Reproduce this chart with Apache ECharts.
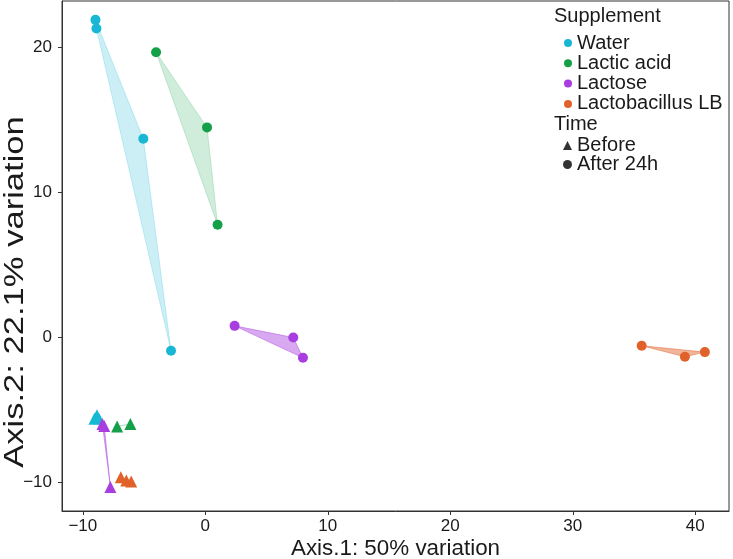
<!DOCTYPE html>
<html><head><meta charset="utf-8">
<script src="https://cdn.jsdelivr.net/npm/echarts@6/dist/echarts.min.js"></script>
<style>html,body{margin:0;padding:0;background:#fff}#c{width:733px;height:559px}</style>
</head><body><div id="c"></div>
<script>
// ---- data ----
const supplements = ['Water', 'Lactic acid', 'Lactose', 'Lactobacillus LB'];
const times = ['Before', 'After 24h'];
const xTicks = [-10, 0, 10, 20, 30, 40];
const yTicks = [-10, 0, 10, 20];
const xTitle = 'Axis.1: 50% variation';
const yTitle = 'Axis.2: 22.1% variation';

const waterAfterX = [-8.97, -8.89, -5.06, -2.80];
const waterAfterY = [21.9, 21.3, 13.7, -0.91];
const lacticAfterX = [-4.02, 0.14, 1.00];
const lacticAfterY = [19.67, 14.49, 7.78];
const lactoseAfterX = [2.39, 7.18, 7.97];
const lactoseAfterY = [0.81, 0.01, -1.39];
const lbAfterX = [35.62, 39.15, 40.78];
const lbAfterY = [-0.56, -1.32, -1.00];

const waterBeforeX = [-9.05, -8.85, -8.70];
const waterBeforeY = [-5.60, -5.35, -5.55];
const lacticBeforeX = [-7.20, -6.12];
const lacticBeforeY = [-6.13, -5.95];
const lactoseBeforeX = [-8.40, -8.25, -7.75];
const lactoseBeforeY = [-5.95, -6.10, -10.30];
const lbBeforeX = [-6.90, -6.45, -6.05];
const lbBeforeY = [-9.63, -9.85, -9.92];

// ---- styling ----
const colors = ['#18b8d5', '#14a049', '#a83ee0', '#e0622a'];
const hullAlpha = [0.22, 0.2, 0.45, 0.47];
const textColor = '#1a1a1a';
const sans = "'Liberation Sans', Arial, sans-serif";

const pts = [
  [[waterBeforeX, waterBeforeY], [waterAfterX, waterAfterY]],
  [[lacticBeforeX, lacticBeforeY], [lacticAfterX, lacticAfterY]],
  [[lactoseBeforeX, lactoseBeforeY], [lactoseAfterX, lactoseAfterY]],
  [[lbBeforeX, lbBeforeY], [lbAfterX, lbAfterY]]
];

function hexA(hex, a) {
  const r = parseInt(hex.slice(1, 3), 16), g = parseInt(hex.slice(3, 5), 16), b = parseInt(hex.slice(5, 7), 16);
  return 'rgba(' + r + ',' + g + ',' + b + ',' + a + ')';
}
function convexHull(p) {
  p = p.slice().sort((a, b) => a[0] - b[0] || a[1] - b[1]);
  if (p.length < 3) return p;
  const cross = (o, a, b) => (a[0] - o[0]) * (b[1] - o[1]) - (a[1] - o[1]) * (b[0] - o[0]);
  const lower = [], upper = [];
  for (const q of p) { while (lower.length >= 2 && cross(lower[lower.length - 2], lower[lower.length - 1], q) <= 0) lower.pop(); lower.push(q); }
  for (let i = p.length - 1; i >= 0; i--) { const q = p[i]; while (upper.length >= 2 && cross(upper[upper.length - 2], upper[upper.length - 1], q) <= 0) upper.pop(); upper.push(q); }
  upper.pop(); lower.pop();
  return lower.concat(upper);
}

const hullData = [];
supplements.forEach((s, gi) => times.forEach((t, ti) => hullData.push([gi, ti])));

const series = [{
  type: 'custom',
  name: 'hulls',
  coordinateSystem: 'cartesian2d',
  silent: true,
  z: 1,
  data: hullData,
  renderItem: function (params, api) {
    const gi = api.value(0), ti = api.value(1);
    const [xs, ys] = pts[gi][ti];
    const px = xs.map((x, i) => api.coord([x, ys[i]]));
    const hull = convexHull(px);
    const col = hexA(colors[gi], hullAlpha[gi]);
    return {
      type: 'polygon',
      shape: { points: hull },
      style: { fill: col, stroke: col, lineWidth: 1 }
    };
  }
}];

supplements.forEach((s, gi) => {
  const data = [];
  times.forEach((t, ti) => {
    const [xs, ys] = pts[gi][ti];
    xs.forEach((x, i) => data.push({
      value: [x, ys[i]],
      symbol: ti === 0 ? 'triangle' : 'circle',
      symbolSize: ti === 0 ? 12 : 10
    }));
  });
  series.push({
    type: 'scatter', name: s, symbol: 'circle', z: 3,
    itemStyle: { color: colors[gi], opacity: 1 },
    data: data
  });
});
series.push({ type: 'scatter', name: 'Before', symbol: 'triangle', itemStyle: { color: '#000' }, data: [] });
series.push({ type: 'scatter', name: 'After 24h', symbol: 'circle', itemStyle: { color: '#000' }, data: [] });

const fmt = v => (v < 0 ? '\u2212' + Math.abs(v) : '' + v);

const chart = echarts.init(document.getElementById('c'), null, { renderer: 'canvas' });
chart.setOption({
  animation: false,
  backgroundColor: '#fff',
  title: [
    { text: 'Supplement', left: 554, top: 6, padding: 0, textStyle: { fontFamily: sans, fontSize: 20, fontWeight: 'normal', color: textColor } },
    { text: 'Time', left: 554, top: 114, padding: 0, textStyle: { fontFamily: sans, fontSize: 20, fontWeight: 'normal', color: textColor } }
  ],
  legend: [
    {
      data: supplements.map(n => ({ name: n, icon: 'circle' })),
      orient: 'vertical', left: 564, top: 33, padding: 0, itemWidth: 8, itemHeight: 8, itemGap: 0.3,
      selectedMode: false,
      textStyle: { fontFamily: sans, fontSize: 20, lineHeight: 17, color: textColor }
    },
    {
      data: [{ name: 'Before', icon: 'triangle' }, { name: 'After 24h', icon: 'circle' }],
      orient: 'vertical', left: 563, top: 135.5, padding: 0, itemWidth: 9, itemHeight: 9, itemGap: -1,
      selectedMode: false,
      textStyle: { fontFamily: sans, fontSize: 20, lineHeight: 17, color: textColor }
    }
  ],
  graphic: [{
    type: 'text', x: 16, y: 292, rotation: Math.PI / 2, scaleX: 1.28,
    style: { text: yTitle, fontFamily: sans, fontSize: 27, fill: textColor, align: 'center', verticalAlign: 'middle' }
  }],
  grid: { left: 62, right: 4, top: 1, bottom: 48, show: true, borderColor: '#333', borderWidth: 1, outerBoundsMode: 'none', containLabel: false },
  xAxis: {
    type: 'value', min: -11.7, max: 42.75,
    axisLine: { show: true, onZero: false, lineStyle: { color: '#333' } },
    axisTick: { show: true, length: 4, customValues: xTicks, lineStyle: { color: '#333' } },
    axisLabel: { customValues: xTicks, fontFamily: sans, fontSize: 17, color: textColor, margin: 7, formatter: fmt },
    splitLine: { show: false },
    name: xTitle, nameLocation: 'middle', nameGap: 27, nameMoveOverlap: false,
    nameTextStyle: { fontFamily: sans, fontSize: 22.4, color: textColor }
  },
  yAxis: {
    type: 'value', min: -11.95, max: 23.2,
    axisLine: { show: true, onZero: false, lineStyle: { color: '#333' } },
    axisTick: { show: true, length: 4, customValues: yTicks, lineStyle: { color: '#333' } },
    axisLabel: { customValues: yTicks, fontFamily: sans, fontSize: 17, color: textColor, margin: 10, formatter: fmt },
    splitLine: { show: false }
  },
  series: series
});
</script></body></html>
